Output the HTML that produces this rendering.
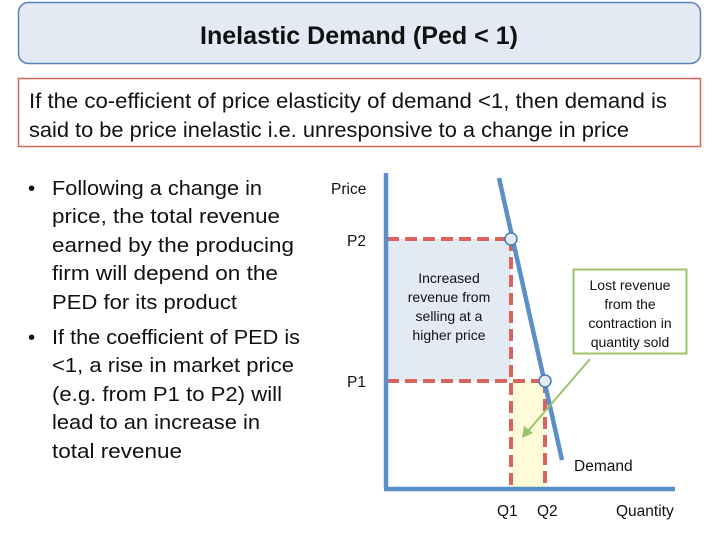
<!DOCTYPE html>
<html><head><meta charset="utf-8"><style>
html,body{margin:0;padding:0;background:#fff;}
svg{display:block;font-family:"Liberation Sans",sans-serif;}
</style></head><body>
<svg width="715" height="534" viewBox="0 0 715 534" xmlns="http://www.w3.org/2000/svg">
<rect x="18.5" y="2.5" width="682" height="61" rx="10" fill="#e3eaf4" stroke="#5b82b5" stroke-width="1.5"/>
<text x="359" y="44" text-anchor="middle" font-size="25" font-weight="bold" fill="#111" textLength="318" lengthAdjust="spacingAndGlyphs">Inelastic Demand (Ped &lt; 1)</text>
<rect x="18.5" y="78.5" width="682" height="68" fill="#fff" stroke="#d9645e" stroke-width="1.5"/>
<text x="29" y="108" font-size="21" fill="#111" textLength="638" lengthAdjust="spacingAndGlyphs">If the co-efficient of price elasticity of demand &lt;1, then demand is</text>
<text x="29" y="137" font-size="21" fill="#111" textLength="600" lengthAdjust="spacingAndGlyphs">said to be price inelastic i.e. unresponsive to a change in price</text>
<g font-size="20.5" fill="#111">
<text x="28" y="195">•</text>
<text x="52" y="195" textLength="210" lengthAdjust="spacingAndGlyphs">Following a change in</text>
<text x="52" y="223" textLength="228" lengthAdjust="spacingAndGlyphs">price, the total revenue</text>
<text x="52" y="252" textLength="242" lengthAdjust="spacingAndGlyphs">earned by the producing</text>
<text x="52" y="280" textLength="226" lengthAdjust="spacingAndGlyphs">firm will depend on the</text>
<text x="52" y="309" textLength="185" lengthAdjust="spacingAndGlyphs">PED for its product</text>
<text x="28" y="344">•</text>
<text x="52" y="344" textLength="248" lengthAdjust="spacingAndGlyphs">If the coefficient of PED is</text>
<text x="52" y="372" textLength="242" lengthAdjust="spacingAndGlyphs">&lt;1, a rise in market price</text>
<text x="52" y="401" textLength="230" lengthAdjust="spacingAndGlyphs">(e.g. from P1 to P2) will</text>
<text x="52" y="429" textLength="208" lengthAdjust="spacingAndGlyphs">lead to an increase in</text>
<text x="52" y="458" textLength="130" lengthAdjust="spacingAndGlyphs">total revenue</text>
</g>
<rect x="387" y="239" width="124" height="142" fill="#e3eaf4"/>
<rect x="511" y="381" width="34" height="108" fill="#fefbd8"/>
<g stroke="#d9645e" stroke-width="4" stroke-dasharray="12,6" fill="none">
<line x1="387" y1="239" x2="511" y2="239"/>
<line x1="511" y1="239" x2="511" y2="489"/>
<line x1="387" y1="381" x2="545" y2="381"/>
<line x1="545" y1="381" x2="545" y2="489"/>
</g>
<g stroke="#5b8fc9" stroke-width="4.5" fill="none">
<line x1="386" y1="173" x2="386" y2="489"/>
<line x1="384" y1="489" x2="675" y2="489"/>
<line x1="499" y1="178" x2="562" y2="460"/>
</g>
<circle cx="511" cy="239" r="6" fill="#e3eaf4" stroke="#4a78b0" stroke-width="1.5"/>
<circle cx="545" cy="381" r="6" fill="#e3eaf4" stroke="#4a78b0" stroke-width="1.5"/>
<rect x="573.5" y="269.5" width="113" height="84" fill="#fff" stroke="#9bc46a" stroke-width="2"/>
<line x1="590" y1="359" x2="528" y2="431" stroke="#9bc46a" stroke-width="2"/>
<polygon points="522,438 524,426 533,433" fill="#9bc46a"/>
<g font-size="14" fill="#111" text-anchor="middle">
<text x="449" y="283">Increased</text>
<text x="449" y="302">revenue from</text>
<text x="449" y="321">selling at a</text>
<text x="449" y="340">higher price</text>
<text x="630" y="290">Lost revenue</text>
<text x="630" y="309">from the</text>
<text x="630" y="328">contraction in</text>
<text x="630" y="347">quantity sold</text>
</g>
<g font-size="15.5" fill="#111">
<text x="331" y="194">Price</text>
<text x="347" y="246">P2</text>
<text x="347" y="387">P1</text>
<text x="574" y="471">Demand</text>
<text x="497" y="516">Q1</text>
<text x="537" y="516">Q2</text>
<text x="616" y="516">Quantity</text>
</g>
</svg>
</body></html>
